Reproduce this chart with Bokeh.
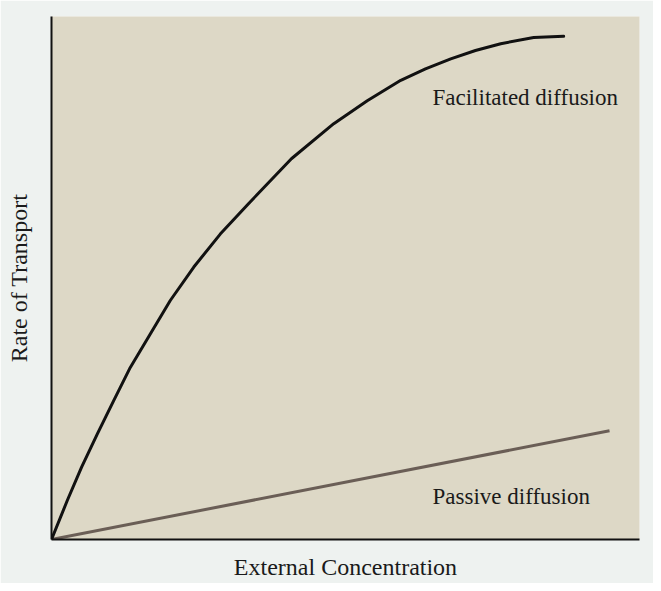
from bokeh.plotting import figure
from bokeh.models import Range1d, FixedTicker
from bokeh.core.properties import value
from bokeh.embed import file_html
from bokeh.resources import INLINE

# Data (arbitrary units, 0-100 on both axes)
facilitated_x = [0, 2.7, 5.1, 7.8, 10.6, 13.4, 16.8, 20.2, 24.2, 28.7, 33.5,
                 40.8, 48.0, 53.7, 59.4, 63.6, 67.9, 72.1, 76.4, 82.0, 87.1]
facilitated_y = [0, 7.5, 13.8, 20.2, 26.6, 32.9, 39.3, 45.7, 52.1, 58.4, 64.2,
                 72.8, 79.5, 83.9, 87.8, 90.0, 91.9, 93.5, 94.8, 96.0, 96.2]
passive_x = [0, 94.9]
passive_y = [0, 20.8]

label_names = ["Facilitated diffusion", "Passive diffusion"]
label_x = [64.8, 64.8]
label_y = [84.6, 8.2]

x_title = "External Concentration"
y_title = "Rate of Transport"

p = figure(width=653, height=583, output_backend="svg", toolbar_location=None,
           x_range=Range1d(0, 100), y_range=Range1d(0, 100),
           min_border_left=51, min_border_right=14, min_border_top=16, min_border_bottom=44)
p.background_fill_color = "#ddd8c6"
p.border_fill_color = "#eef2f0"
p.outline_line_color = None
p.grid.visible = False

for ax in (p.xaxis[0], p.yaxis[0]):
    ax.ticker = FixedTicker(ticks=[])
    ax.axis_line_color = "#111111"
    ax.axis_line_width = 2
    ax.major_tick_line_color = None
    ax.minor_tick_line_color = None
    ax.axis_label_text_font = "Liberation Serif"
    ax.axis_label_text_font_size = "24px"
    ax.axis_label_text_font_style = "normal"
    ax.axis_label_text_color = "#1a1a1a"

p.xaxis.axis_label = x_title
p.xaxis.axis_label_standoff = 14
p.yaxis.axis_label = y_title
p.yaxis.axis_label_standoff = 20

p.line(passive_x, passive_y, line_color="#6a5e56", line_width=3)
p.line(facilitated_x, facilitated_y, line_color="#111111", line_width=3,
       line_join="round", line_cap="round")

p.text(x=label_x, y=label_y, text=label_names, text_font=value("Liberation Serif"),
       text_font_size="23px", text_color="#1a1a1a", text_align="left",
       text_baseline="alphabetic")

open("out.html", "w").write(file_html(p, INLINE))
